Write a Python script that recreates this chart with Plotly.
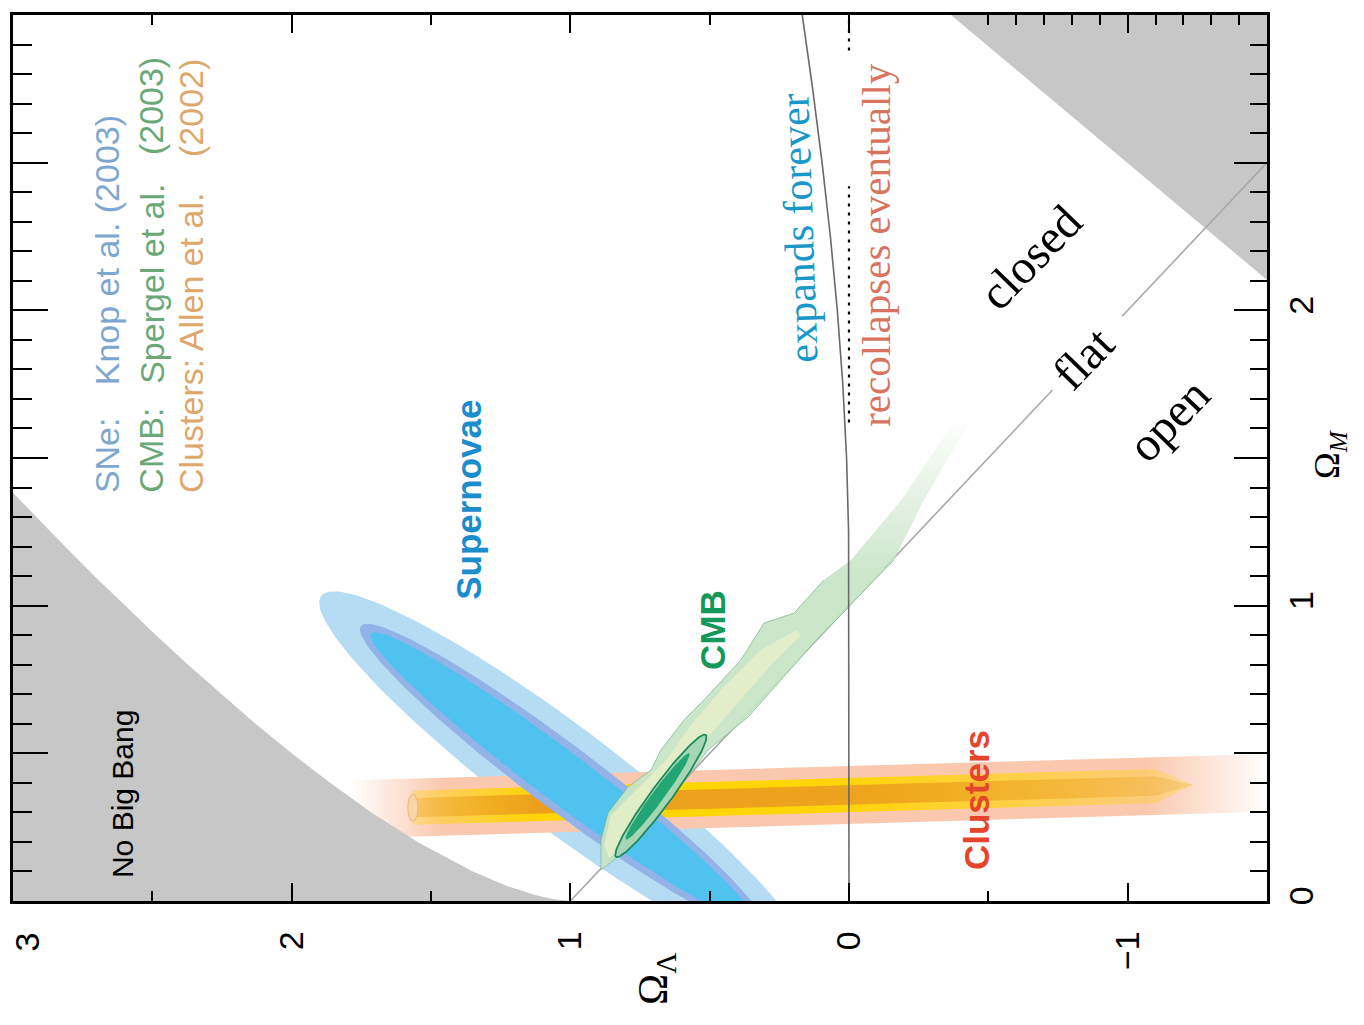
import numpy as np
import plotly.graph_objects as go

SANS = "Liberation Sans, Arial, sans-serif"
SERIF = "Liberation Serif, Times New Roman, serif"

# ---------------- axes (Omega_Lambda horizontal, reversed; Omega_M vertical) -------------
OL_RANGE = [3.0, -1.5]
OM_RANGE = [0.0, 3.0]
x_tick_vals = [2, 1, 0, -1]
x_tick_text = ["2", "1", "0", "\u22121"]
x_edge_label = "3"                 # the "3" sits shifted inside the left edge
x_minor_bottom = [2.5, 1.5, 0.5, -0.5]
x_minor_top = [2.5, 1.5, 0.5, -0.5, -0.6, -0.7, -0.8, -0.9, -1.1, -1.2, -1.3, -1.4]
y_tick_vals = [0, 1, 2, 3]
y_tick_text = ["0", "1", "2", "3"]
y_half_vals = [0.5, 1.5, 2.5]
y_major_all = [0, 0.5, 1, 1.5, 2, 2.5, 3]
y_minor = [0.1, 0.2, 0.3, 0.4, 0.6, 0.7, 0.8, 0.9, 1.1, 1.2, 1.3, 1.4, 1.6, 1.7, 1.8, 1.9,
           2.1, 2.2, 2.3, 2.4, 2.6, 2.7, 2.8, 2.9]

# ---------------- boundaries (Omega_M, Omega_Lambda) ---------------
nbb_M = [0.0, 0.001, 0.005, 0.01, 0.02, 0.05, 0.1, 0.2, 0.3, 0.4, 0.5, 0.6, 0.7, 0.8, 0.9,
         1.0, 1.1, 1.2, 1.3, 1.382]
nbb_L = [1.0, 1.018, 1.051, 1.080, 1.126, 1.225, 1.350, 1.548, 1.714, 1.862, 2.0, 2.130,
         2.253, 2.372, 2.487, 2.598, 2.707, 2.813, 2.917, 3.0]
corner_M = [3.0, 3.0, 2.103]
corner_L = [-0.366, -1.5, -1.5]

exp_M = [0.0, 1.0, 1.1, 1.25, 1.5, 1.75, 2.0, 2.25, 2.5, 2.75, 3.0]
exp_L = [0.0, 0.0, 0.0001, 0.0015, 0.0087, 0.0223, 0.0419, 0.0668, 0.0966, 0.1304, 0.1678]

flat_M = [[0.0, 1.73], [1.98, 2.5]]
dot_M = [[2.88, 3.0], [1.62, 2.42]]

# ---------------- Supernovae contours (ellipses) ----------------
sn_center = (0.42, 1.03)          # (Omega_M, Omega_Lambda)
sn_axis = (0.577, 0.816)
sn_a = [1.06, 0.885, 0.84]
sn_b = [0.178, 0.113, 0.088]
sn_colors = ["#b6dcf4", "#93b3e8", "#4fc2ef"]

# ---------------- CMB contours ----------------
cmb_outer_M = [0.105, 0.132, 0.207, 0.298, 0.386, 0.444, 0.511, 0.613, 0.681, 0.816, 0.941,
               0.975, 1.087, 1.155, 1.36, 1.60, 1.62, 1.36, 1.155, 0.874, 0.623, 0.511,
               0.420, 0.139]
cmb_outer_L = [0.89, 0.890, 0.890, 0.865, 0.793, 0.710, 0.675, 0.592, 0.520, 0.388, 0.305,
               0.197, 0.090, -0.007, -0.19, -0.36, -0.43, -0.27, -0.161, 0.126, 0.362, 0.506,
               0.578, 0.843]
cmb_inner_M = [0.190, 0.291, 0.393, 0.477, 0.596, 0.715, 0.850, 0.918, 0.901, 0.799, 0.664,
               0.528, 0.342, 0.190, 0.146]
cmb_inner_L = [0.879, 0.854, 0.746, 0.657, 0.567, 0.459, 0.316, 0.190, 0.172, 0.280, 0.405,
               0.531, 0.675, 0.800, 0.861]
cmb_ell_center = [(0.356, 0.675), (0.354, 0.687)]
cmb_ell_axis = (0.788, -0.616)
cmb_ell_a = [0.262, 0.185]
cmb_ell_b = [0.036, 0.021]

# ---------------- Clusters band ----------------
cl_L = [1.79, -1.5]               # band extent in Omega_Lambda
cl_M = [0.31, 0.40]               # band centre Omega_M at those ends
cl_half = [0.098, 0.058, 0.033]   # outer, yellow, orange half widths
cl_core_L = [1.565, -1.10, -1.235]


def ellipse(c, u, a, b, n=160):
    t = np.linspace(0, 2 * np.pi, n)
    M = c[0] + a * np.cos(t) * u[0] - b * np.sin(t) * u[1]
    L = c[1] + a * np.cos(t) * u[1] + b * np.sin(t) * u[0]
    return L, M


def band_M(L):
    return cl_M[0] + (cl_M[1] - cl_M[0]) * (L - cl_L[0]) / (cl_L[1] - cl_L[0])


fig = go.Figure()


def poly(L, M, color, **kw):
    fig.add_trace(go.Scatter(x=list(L), y=list(M), mode="lines", fill="toself",
                             fillcolor=color, line=dict(width=0), hoverinfo="skip",
                             showlegend=False, **kw))


# SN outer
L, M = ellipse(sn_center, sn_axis, sn_a[0], sn_b[0])
poly(L, M, sn_colors[0])

# Cluster outer band
h = cl_half[0]
Lo = [cl_L[0], cl_L[1], cl_L[1], cl_L[0]]
Mo = [band_M(cl_L[0]) + h, band_M(cl_L[1]) + h, band_M(cl_L[1]) - h, band_M(cl_L[0]) - h]
fig.add_trace(go.Scatter(
    x=Lo, y=Mo, mode="lines", fill="toself", line=dict(width=0), showlegend=False,
    hoverinfo="skip",
    fillgradient=dict(type="horizontal", start=-1.5, stop=1.79,
                      colorscale=[[0, "rgba(250,200,175,0)"], [0.13, "rgba(250,200,175,1)"],
                                  [0.9, "rgba(250,200,175,1)"], [1, "rgba(250,200,175,0)"]])))

# Cluster yellow and orange core
for hh, rgb in [(cl_half[1], "255,214,0"), (cl_half[2], "236,160,30")]:
    a, tipb, tip = cl_core_L
    Lc = [a, tipb, tip, tipb, a]
    Mc = [band_M(a) + hh, band_M(tipb) + hh, band_M(tip), band_M(tipb) - hh, band_M(a) - hh]
    fig.add_trace(go.Scatter(
        x=Lc, y=Mc, mode="lines", fill="toself", line=dict(width=0), showlegend=False,
        hoverinfo="skip",
        fillgradient=dict(type="horizontal", start=-1.235, stop=1.565,
                          colorscale=[[0, f"rgba({rgb},0.22)"], [0.45, f"rgba({rgb},0.95)"],
                                      [0.84, f"rgba({rgb},1)"], [1, f"rgba({rgb},0.3)"]])))

# left end cap of the cluster core
fig.add_shape(type="circle", xref="x", yref="y",
              x0=cl_core_L[0] + 0.018, x1=cl_core_L[0] - 0.018,
              y0=band_M(cl_core_L[0]) - 0.046, y1=band_M(cl_core_L[0]) + 0.046,
              fillcolor="rgba(250,212,170,1)", line=dict(color="rgba(240,180,120,1)", width=1))

# gray excluded regions
poly(nbb_L + [3.0], nbb_M + [0.0], "#c7c7c7")
poly(corner_L, corner_M, "#c7c7c7")

# SN mid and inner
for k in (1, 2):
    L, M = ellipse(sn_center, sn_axis, sn_a[k], sn_b[k])
    poly(L, M, sn_colors[k])

# flat line
for seg in flat_M:
    fig.add_trace(go.Scatter(x=[1 - m for m in seg], y=seg, mode="lines",
                             line=dict(color="#a8a8a8", width=1.6), showlegend=False,
                             hoverinfo="skip"))

# CMB outer with fading top
fig.add_trace(go.Scatter(
    x=cmb_outer_L, y=cmb_outer_M, mode="lines", fill="toself", line=dict(width=0),
    showlegend=False, hoverinfo="skip",
    fillgradient=dict(type="vertical", start=1.1, stop=1.65,
                      colorscale=[[0, "rgba(200,228,198,0.93)"], [1, "rgba(200,228,198,0)"]])))
# thin outline on the solid (lower) part of the CMB region
edge_left = list(range(0, 13))
edge_right = list(range(18, 24)) + [0]
for idx in (edge_left, edge_right):
    fig.add_trace(go.Scatter(x=[cmb_outer_L[i] for i in idx], y=[cmb_outer_M[i] for i in idx],
                             mode="lines", line=dict(color="rgba(120,185,145,0.75)", width=1),
                             showlegend=False, hoverinfo="skip"))
poly(cmb_inner_L, cmb_inner_M, "rgba(226,238,200,0.95)")
L, M = ellipse(cmb_ell_center[0], cmb_ell_axis, cmb_ell_a[0], cmb_ell_b[0])
fig.add_trace(go.Scatter(x=L, y=M, mode="lines", fill="toself", fillcolor="#a6d6b4",
                         line=dict(color="#1d8a5c", width=1.8), showlegend=False,
                         hoverinfo="skip"))
L, M = ellipse(cmb_ell_center[1], cmb_ell_axis, cmb_ell_a[1], cmb_ell_b[1])
poly(L, M, "#22a673")

# expands forever / recollapses line
fig.add_trace(go.Scatter(x=exp_L, y=exp_M, mode="lines", line=dict(color="#6a6a6a", width=1.6),
                         showlegend=False, hoverinfo="skip"))
for seg in dot_M:
    fig.add_trace(go.Scatter(x=[0, 0], y=seg, mode="lines",
                             line=dict(color="black", width=2.2, dash="3px,6px"),
                             showlegend=False, hoverinfo="skip"))

# dummy traces for the overlay axes (top, left, right half-unit ticks)
fig.add_trace(go.Scatter(x=[None], y=[None], xaxis="x2", yaxis="y2", showlegend=False))
fig.add_trace(go.Scatter(x=[None], y=[None], xaxis="x", yaxis="y3", showlegend=False))

# ---------------- texts ----------------
ann = []


def add(text, L, M, size, color, angle=-90, family=SANS, xanchor="center", yanchor="middle",
        xref="x", yref="y"):
    ann.append(dict(text=text, x=L, y=M, xref=xref, yref=yref, showarrow=False,
                    textangle=angle, xanchor=xanchor, yanchor=yanchor,
                    font=dict(family=family, size=size, color=color)))


add("No Big Bang", 2.609, 0.362, 30, "black")
add("<b>Supernovae</b>", 1.364, 1.358, 35, "#1b8dcc")
add("<b>CMB</b>", 0.488, 0.918, 35, "#14995a")
add("<b>Clusters</b>", -0.456, 0.342, 35, "#e5452b")
add("closed", -0.653, 2.181, 48, "black", angle=-46, family=SERIF)
add("flat", -0.843, 1.839, 48, "black", angle=-46, family=SERIF)
add("open", -1.148, 1.629, 48, "black", angle=-46, family=SERIF)
add("expands forever", 0.18, 2.279, 42, "#1a97c9", angle=-92, family=SERIF)
add("recollapses eventually", -0.097, 2.222, 41, "#d7735f", family=SERIF)

leg_blue, leg_green, leg_orange = "#7ea7cf", "#6aa877", "#dca86c"
LEG = 34
add("SNe:", 2.662, 1.375, LEG, leg_blue, yanchor="bottom")
add("Knop et al. (2003)", 2.662, 2.668, LEG, leg_blue, yanchor="top")
add("CMB:", 2.504, 1.375, LEG, leg_green, yanchor="bottom")
add("Spergel et al.", 2.504, 1.745, LEG, leg_green, yanchor="bottom")
add("(2003)", 2.504, 2.865, LEG, leg_green, yanchor="top")
add("Clusters: Allen et al.", 2.361, 1.375, LEG, leg_orange, yanchor="bottom")
add("(2002)", 2.361, 2.858, LEG, leg_orange, yanchor="top")

add("\u03a9<sub>\u039b</sub>", 0.5128, -0.0880, 42, "black", family=SERIF, xref="paper",
    yref="paper")
add("\u03a9<sub><i>M</i></sub>", 1.0495, 0.5045, 36, "black", family=SERIF, xref="paper",
    yref="paper")
add(x_edge_label, 0.011, -0.033, 34, "black", xref="paper", yref="paper", yanchor="top")

axis_common = dict(showgrid=False, zeroline=False, showline=True, linecolor="black",
                   linewidth=2.5, ticks="inside", tickcolor="black", tickwidth=2,
                   automargin=False)


def minor(vals, length):
    return dict(tickmode="array", tickvals=vals, ticklen=length, ticks="inside",
                tickcolor="black", tickwidth=2, showgrid=False)


# page has an 8px body margin: figure is shrunk and margins offset so the plot frame
# lands at the same place as in the original picture
fig.update_layout(
    width=1348, height=1009, paper_bgcolor="white", plot_bgcolor="white",
    margin=dict(l=5, r=89, t=7, b=116, autoexpand=False), showlegend=False,
    annotations=ann,
    xaxis=dict(range=OL_RANGE, tickmode="array", tickvals=x_tick_vals, ticktext=x_tick_text,
               ticklen=18, tickangle=-90, ticklabelstandoff=14,
               tickfont=dict(family=SANS, size=34, color="black"),
               minor=minor(x_minor_bottom, 10), anchor="y", **axis_common),
    xaxis2=dict(range=OL_RANGE, overlaying="x", side="top", anchor="y", tickmode="array",
                tickvals=x_tick_vals, showticklabels=False, ticklen=18,
                minor=minor(x_minor_top, 10), **axis_common),
    yaxis=dict(range=OM_RANGE, side="right", anchor="x", tickmode="array",
               tickvals=y_tick_vals, ticktext=y_tick_text, ticklen=33, tickangle=-90,
               ticklabelstandoff=2, tickfont=dict(family=SANS, size=34, color="black"),
               minor=minor(y_minor, 17), **axis_common),
    yaxis3=dict(range=OM_RANGE, overlaying="y", side="right", anchor="x", tickmode="array",
                tickvals=y_half_vals, showticklabels=False, ticklen=33, **axis_common),
    yaxis2=dict(range=OM_RANGE, overlaying="y", side="left", anchor="x", tickmode="array",
                tickvals=y_major_all, showticklabels=False, ticklen=35,
                minor=minor(y_minor, 19), **axis_common),
)

fig.write_html("out.html")
